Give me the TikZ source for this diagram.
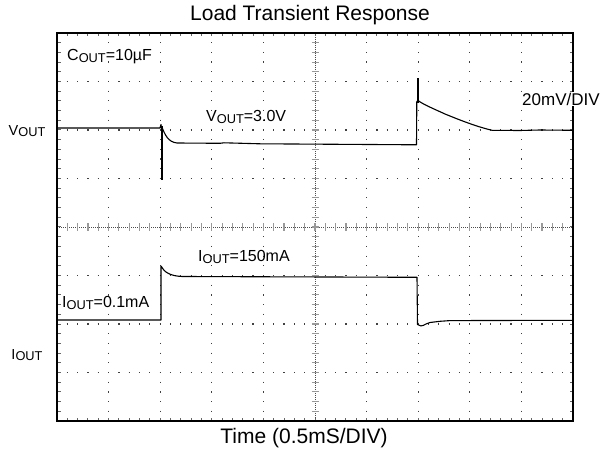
\documentclass[tikz,border=0pt]{standalone}
\usepackage{fontspec}
\setmainfont{Liberation Sans}
\newcommand\subtx[1]{\raisebox{-1.5pt}{\fontsize{12.8}{14}\selectfont #1}}
\begin{document}
\begin{tikzpicture}[x=1pt,y=-1pt,
  lbl/.style={inner sep=1pt, font=\fontsize{16}{18}\selectfont},
  sidelbl/.style={inner sep=0pt, font=\fontsize{14.5}{18}\selectfont},
  bigl/.style={inner sep=0pt, font=\fontsize{21}{24}\selectfont},
  trace/.style={line width=1.1pt, black, line join=round},
  gridv/.style={black!75, line width=1.2pt, dash pattern=on 1.2pt off 8.5pt, dash phase=0.6pt},
  gridh/.style={black!75, line width=1.2pt, dash pattern=on 1.2pt off 9.12pt, dash phase=0.6pt},
  centl/.style={black!70, line width=0.8pt, dash pattern=on 1pt off 1pt},
  tickc/.style={black!40, line width=1.1pt},
  tickb/.style={black!60, line width=1pt}]
\useasboundingbox (0,0) rectangle (605,457);
% grid lines
\foreach \i in {1,2,3,4,6,7,8,9}{
  \draw[gridv] ({57+51.6*\i},33) -- ({57+51.6*\i},421);}
\foreach \j in {1,2,3,5,6,7}{
  \draw[gridh] (57,{33+48.5*\j}) -- (573,{33+48.5*\j});}
% centre cross
\draw[centl] (57,227) -- (573,227);
\draw[centl] (315,33) -- (315,421);
\foreach \k in {1,...,49}{
  \draw[tickc] ({57+10.32*\k},223.3) -- ({57+10.32*\k},230.7);
  \draw[tickb] ({57+10.32*\k},421) -- ({57+10.32*\k},417.5);
  \draw[tickb] ({57+10.32*\k},33) -- ({57+10.32*\k},36.5);}
\foreach \k in {1,...,39}{
  \draw[tickc] (311.5,{33+9.7*\k}) -- (318.5,{33+9.7*\k});
  \draw[tickb] (57,{33+9.7*\k}) -- (60.5,{33+9.7*\k});
  \draw[tickb] (573,{33+9.7*\k}) -- (569.5,{33+9.7*\k});}
% border
\draw[black, line width=1.3pt] (57,33) rectangle (573,421);
% VOUT trace
\draw[trace] (57,128) -- (160,128) -- (161,124.5) -- (161.5,128);
\draw[black, line width=2pt] (161.5,126) -- (161.5,180);
\draw[trace] (161.5,126) .. controls (165,135) and (168,142) .. (177,143)
  -- (220,143.3) -- (224,142.8) -- (260,143.8) -- (416.5,144.8) -- (416.8,101);
\draw[black, line width=2pt] (417.5,103) -- (417.5,78);
\draw[trace] (417.5,100) .. controls (422,104) and (432,108) .. (445,114)
  .. controls (462,121) and (478,127) .. (492,130.3)
  -- (520,130.5) -- (540,130) -- (573,130.3);
% IOUT trace
\draw[trace] (57,320) -- (161,320) -- (161,266)
  .. controls (164,272) and (170,276) .. (182,276.5)
  -- (417,277.3) -- (417.5,324.5)
  .. controls (419,326.5) and (422,326.5) .. (426,324)
  -- (430,322.5) -- (440,321.3) -- (450,320.6) -- (573,320.3);
% labels
\node[bigl] (title) at (310,15) {Load Transient Response};
\node[bigl] (time) at (304,438) {Time (0.5mS/DIV)};
\node[sidelbl] (vside) at (27,131) {V\subtx{OUT}};
\node[sidelbl] (iside) at (27,355) {I\subtx{OUT}};
\node[lbl, anchor=west] (cout) at (66,57) {C\subtx{OUT}=10µF};
\node[lbl, anchor=west] (vval) at (205,117) {V\subtx{OUT}=3.0V};
\node[lbl, anchor=west, fill=white, font=\fontsize{17}{19}\selectfont] (scale) at (521,99) {20mV/DIV};
\node[lbl, anchor=west] (ihigh) at (197,257) {I\subtx{OUT}=150mA};
\node[lbl, anchor=west, fill=white] (ilow) at (61,303) {I\subtx{OUT}=0.1mA};
\end{tikzpicture}
\end{document}
